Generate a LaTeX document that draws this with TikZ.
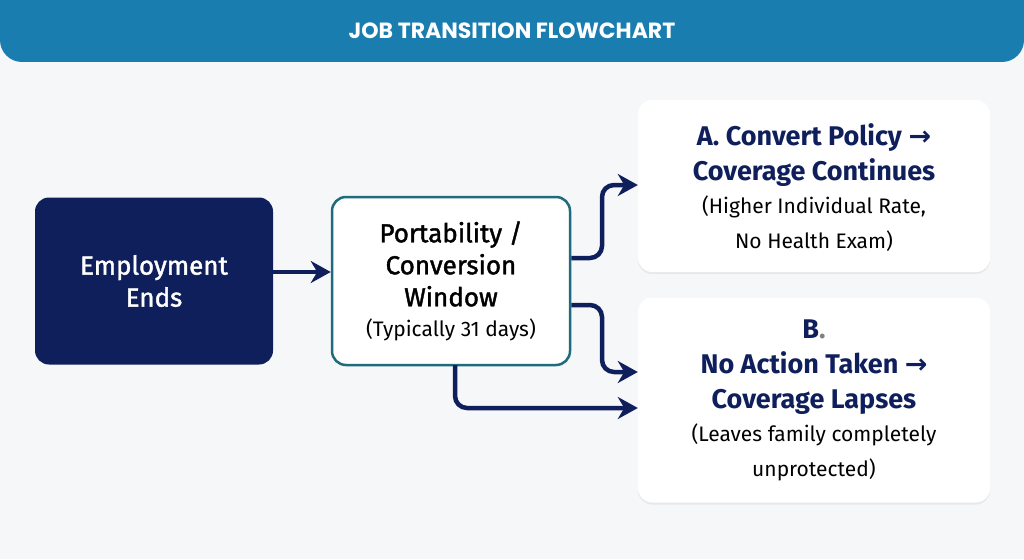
\documentclass[tikz,border=0pt]{standalone}
\usepackage{fontspec}
\setmainfont{Fira Sans}
\newfontfamily\medfont{Fira Sans}[FakeBold=1.6]
\newfontfamily\titlefont{Poppins}
\newfontfamily\symfont{DejaVu Sans}
\usetikzlibrary{positioning,shadows,arrows.meta}
\definecolor{navy}{HTML}{0F1F5C}
\definecolor{banner}{HTML}{1A7DB0}
\definecolor{teal}{HTML}{1D6B7D}
\definecolor{bg}{HTML}{F6F7F9}
\newcommand{\rarr}{{\symfont\textbf{→}}}
\newcommand{\headfont}{\fontsize{27}{35}\selectfont\bfseries}
\newcommand{\subfont}{\color{black}\mdseries\fontsize{21}{27}\selectfont}
\begin{document}
\begin{tikzpicture}[x=1pt,y=1pt,
    box/.style={rectangle, rounded corners=14pt, align=center, inner sep=0pt},
    res/.style={box, fill=white, drop shadow={opacity=0.12, shadow xshift=0pt, shadow yshift=-2pt},
        minimum width=352pt},
    flow/.style={-{Stealth[length=20pt,width=22pt]}, draw=navy, line width=4.5pt, rounded corners=12pt}
]
\useasboundingbox (0,0) rectangle (1024,-559);
\fill[bg] (0,0) rectangle (1024,-559);
%%%BANNER
\fill[banner, rounded corners=22pt] (0,30) rectangle (1024,-62);
\node[text=white, font=\titlefont\bfseries\fontsize{22}{26}\selectfont] (title) at (512,-31) {JOB TRANSITION FLOWCHART};
%%%BOXES
\node[box, fill=navy, text=white, minimum width=238pt, minimum height=167pt,
      font=\medfont\fontsize{26}{32}\selectfont] (ends) at (154,-281) {Employment\\Ends};
\node[box, fill=white, draw=teal, line width=2.5pt, minimum width=238pt, minimum height=168pt,
      font=\fontsize{26}{32}\selectfont] (window) at (451,-281)
      {\medfont Portability /\\\medfont Conversion\\\medfont Window\\[-2pt]{\fontsize{21}{26}\selectfont(Typically 31 days)}};
\node[res, minimum height=172pt, text=navy, font=\headfont] (optA) at (814,-186)
      {\\[-10pt]A. Convert Policy \rarr\\Coverage Continues\\[-2pt]\subfont(Higher Individual Rate,\\\subfont No Health Exam)};
\node[res, minimum height=205pt, text=navy, font=\headfont] (optB) at (814,-400)
      {B\textcolor{gray}{.}\\No Action Taken \rarr\\Coverage Lapses\\[-2pt]\subfont(Leaves family completely\\\subfont unprotected)};
%%%CONNECTORS
\draw[flow] (ends.east |- 0,-272) -- (window.west |- 0,-272);
\draw[flow] (window.east |- 0,-258) -- (602,-258) -- (602,-185) -- (optA.west |- 0,-185);
\draw[flow] (window.east |- 0,-305) -- (602,-305) -- (602,-372) -- (optB.west |- 0,-372);
\draw[flow] (455,-365) -- (455,-408) -- (optB.west |- 0,-408);
\end{tikzpicture}
\end{document}
